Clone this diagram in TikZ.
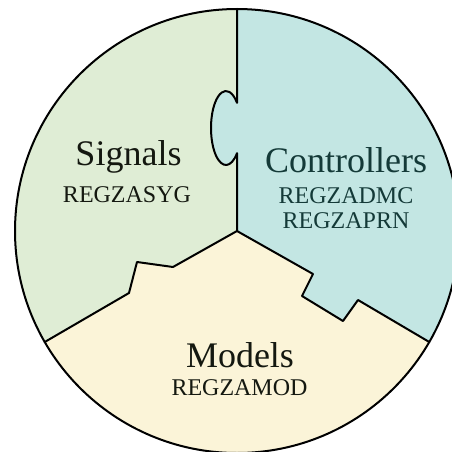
\documentclass[tikz,border=0pt]{standalone}
\usepackage{fontspec}
\setmainfont{Liberation Serif}
\definecolor{sigfill}{HTML}{DFEDD5}
\definecolor{ctrlfill}{HTML}{C3E6E3}
\definecolor{modfill}{HTML}{FBF4D8}
\definecolor{ctrltext}{HTML}{143A38}
\definecolor{darktext}{HTML}{141810}
\begin{document}
\begin{tikzpicture}[x=1pt,y=1pt,
  title/.style={font=\fontsize{36}{40}\selectfont, anchor=base, inner sep=0pt},
  code/.style={font=\fontsize{24}{28}\selectfont, anchor=base, inner sep=0pt},
  edge/.style={draw=black, line width=2pt, line join=round, line cap=round}]
\useasboundingbox (0,0) rectangle (452,451);
% hub and the three rim points at 90, 210 and 330 degrees
\coordinate (O) at (237,220);
\coordinate (rimT) at (237,442);
\coordinate (rimL) at (44.74,109);
\coordinate (rimR) at (429.26,109);
% tab of the Controllers piece (elliptic knob on the upper divider)
\coordinate (tabTop) at (237,348.15);
\coordinate (tabBot) at (237,297.85);
% notch on the lower-left divider
\coordinate (l1) at (173,184);
\coordinate (l2) at (137,189);
\coordinate (l3) at (129,158);
% notch on the lower-right divider
\coordinate (r1) at (313,177);
\coordinate (r2) at (302,155);
\coordinate (r3) at (343,130);
\coordinate (r4) at (358,151);

% Signals piece
\fill[sigfill] (O) -- (tabBot) arc[start angle=317.17, end angle=42.83, x radius=15, y radius=37]
  -- (rimT) arc[start angle=90, end angle=210, radius=222]
  -- (l3) -- (l2) -- (l1) -- cycle;
% Controllers piece
\fill[ctrlfill] (rimT) -- (tabTop) arc[start angle=42.83, end angle=317.17, x radius=15, y radius=37]
  -- (O) -- (r1) -- (r2) -- (r3) -- (r4) -- (rimR)
  arc[start angle=-30, end angle=90, radius=222] -- cycle;
% Models piece
\fill[modfill] (O) -- (l1) -- (l2) -- (l3) -- (rimL)
  arc[start angle=210, end angle=330, radius=222]
  -- (r4) -- (r3) -- (r2) -- (r1) -- cycle;

% outlines
\draw[edge] (O) circle[radius=222];
\draw[edge] (O) -- (tabBot) arc[start angle=317.17, end angle=42.83, x radius=15, y radius=37] -- (rimT);
\draw[edge] (O) -- (l1) -- (l2) -- (l3) -- (rimL);
\draw[edge] (O) -- (r1) -- (r2) -- (r3) -- (r4) -- (rimR);

% labels
\node[title, text=darktext] (sig) at (128.5,286) {Signals};
\node[code, text=darktext] (sigc) at (127,249) {REGZASYG};
\node[title, text=ctrltext] (ctl) at (346,279) {Controllers};
\node[code, text=ctrltext] (ctlc1) at (346,248) {REGZADMC};
\node[code, text=ctrltext] (ctlc2) at (346,223) {REGZAPRN};
\node[title, text=darktext] (mod) at (240,84) {Models};
\node[code, text=darktext] (modc) at (239.5,56) {REGZAMOD};
\end{tikzpicture}
\end{document}
